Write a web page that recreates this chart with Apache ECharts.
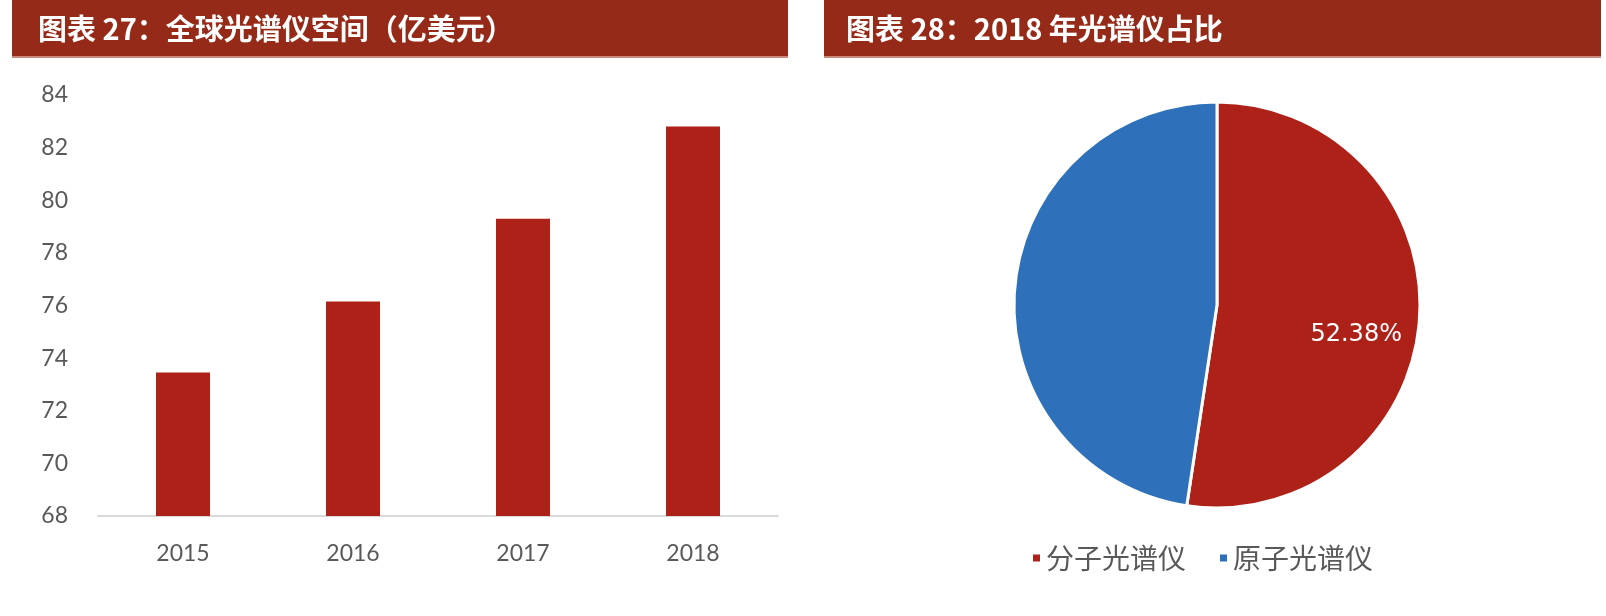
<!DOCTYPE html>
<html><head><meta charset="utf-8">
<script src="https://cdn.jsdelivr.net/npm/echarts@6/dist/echarts.min.js"></script>
<style>html,body{margin:0;padding:0;background:#fff}#c{width:1606px;height:616px}</style>
</head><body><div id="c"></div>
<script>
const title1 = '图表 27：全球光谱仪空间（亿美元）';
const title2 = '图表 28：2018 年光谱仪占比';
const years = ['2015', '2016', '2017', '2018'];
const marketSize = [73.45, 76.15, 79.3, 82.8];
const pieNames = ['分子光谱仪', '原子光谱仪'];
const pieValues = [52.38, 47.62];
const yTicks = { min: 68, max: 84, interval: 2 };

const RED = '#ae2118', BLUE = '#2e70ba', HEAD = '#962a18';
const chart = echarts.init(document.getElementById('c'));
chart.setOption({
  animation: false,
  graphic: [
    { type: 'rect', shape: { x: 12, y: 0, width: 776, height: 57 }, style: { fill: HEAD }, z: 1 },
    { type: 'rect', shape: { x: 12, y: 56, width: 776, height: 2 }, style: { fill: '#c98a7c' }, z: 2 },
    { type: 'rect', shape: { x: 824, y: 0, width: 777, height: 57 }, style: { fill: HEAD }, z: 1 },
    { type: 'rect', shape: { x: 824, y: 56, width: 777, height: 2 }, style: { fill: '#c98a7c' }, z: 2 },
    { type: 'text', x: 38, y: 29, style: { text: title1, fill: '#fff', font: 'bold 29px "Noto Sans CJK SC"', verticalAlign: 'middle' }, z: 3 },
    { type: 'text', x: 846, y: 29, style: { text: title2, fill: '#fff', font: 'bold 29px "Noto Sans CJK SC"', verticalAlign: 'middle' }, z: 3 }
  ],
  grid: { left: 98, right: 828, top: 95, bottom: 100 },
  xAxis: {
    type: 'category', data: years,
    axisLine: { lineStyle: { color: '#d9d9d9', width: 2 } },
    axisTick: { show: false },
    axisLabel: { color: '#595959', fontSize: 23, margin: 26, fontFamily: 'Lato' }
  },
  yAxis: {
    type: 'value', min: yTicks.min, max: yTicks.max, interval: yTicks.interval,
    axisLine: { show: false }, axisTick: { show: false }, splitLine: { show: false },
    axisLabel: { color: '#595959', fontSize: 23, margin: 30, fontFamily: 'Lato' }
  },
  legend: {
    data: pieNames, left: 1026, top: 539,
    icon: 'rect', itemWidth: 9, itemHeight: 9, itemGap: 32,
    textStyle: { color: '#595959', fontSize: 28, fontFamily: '"Noto Sans CJK SC"' }
  },
  series: [
    {
      type: 'bar', data: marketSize, barWidth: 54,
      itemStyle: { color: RED }
    },
    {
      type: 'pie', center: [1217, 305], radius: 203, startAngle: 90, clockwise: true,
      data: pieNames.map((n, i) => ({ name: n, value: pieValues[i] })),
      itemStyle: { borderColor: '#fff', borderWidth: 3 },
      color: [RED, BLUE],
      label: {
        position: 'inside', color: '#fff', fontSize: 24, fontFamily: 'DejaVu Sans',
        formatter: p => p.dataIndex === 0 ? p.value.toFixed(2) + '%' : ''
      },
      labelLayout: { dx: 35, dy: 22 },
      labelLine: { show: false }
    }
  ]
});
</script></body></html>
